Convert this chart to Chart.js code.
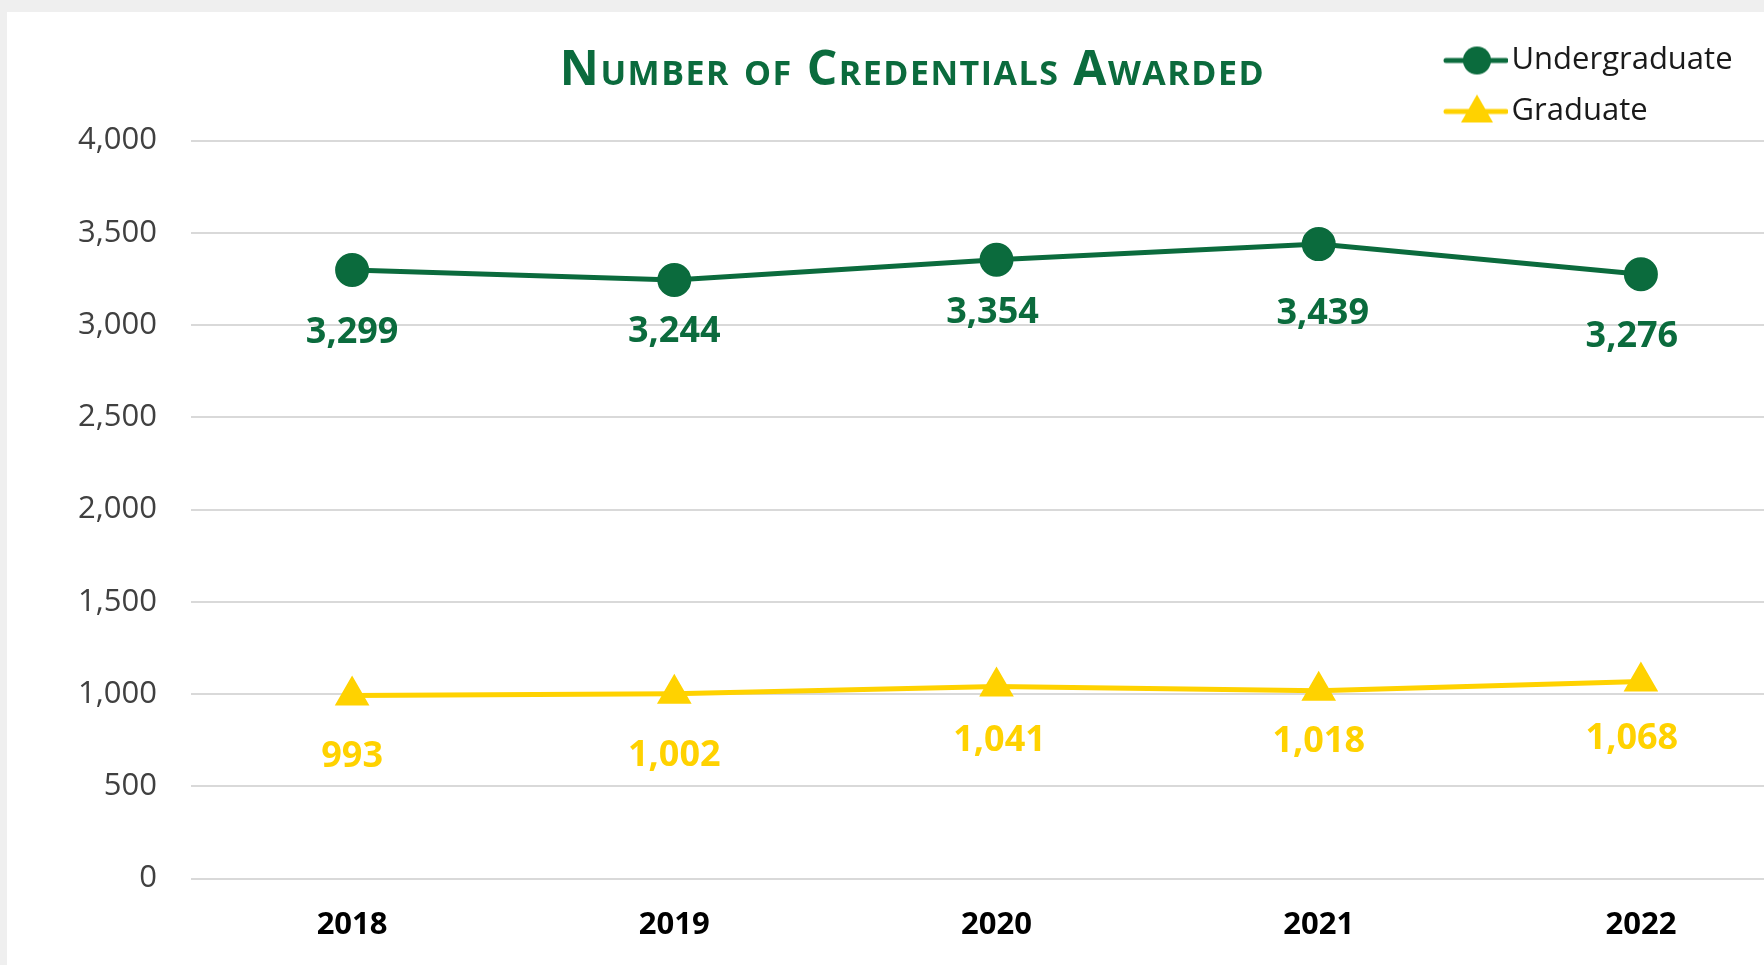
<!DOCTYPE html>
<html>
<head>
<meta charset="utf-8">
<script src="https://cdn.jsdelivr.net/npm/chart.js@4.4.1/dist/chart.umd.min.js"></script>
<style>
    body { margin: 0; background: #efefef; overflow: hidden; }
    #box { position: absolute; left: 7px; top: 12px; width: 1815px; height: 953px; background: #fff; }
</style>
</head>
<body>
<div id="box"><canvas id="credChart"></canvas></div>
<script>
// Data
const years = ['2018', '2019', '2020', '2021', '2022'];
const undergraduate = [3299, 3244, 3354, 3439, 3276];
const graduate = [993, 1002, 1041, 1018, 1068];
const yTicks = [0, 500, 1000, 1500, 2000, 2500, 3000, 3500, 4000];

// label nudges (px below the point), as placed in the original
const labelDrop = [[63, 52, 53, 70, 63], [61, 62, 54, 51, 57]];
const labelShift = [[0, 0, -4, 4, -9], [0, 0, 3, 0, -9]];

const green = '#0b6b3d';
const yellow = '#ffd200';
const fontFamily = "'Open Sans', sans-serif";
const titleText = 'Number of Credentials Awarded';
const titleSize = 48;

// Legend sample: line with marker in the middle
function legendIcon(color, shape) {
    const c = document.createElement('canvas');
    c.width = 74;
    c.height = 40;
    const ctx = c.getContext('2d');
    ctx.strokeStyle = color;
    ctx.fillStyle = color;
    ctx.lineWidth = 5;
    ctx.lineCap = 'round';
    ctx.beginPath();
    ctx.moveTo(12, 20);
    ctx.lineTo(72, 20);
    ctx.stroke();
    ctx.beginPath();
    if (shape === 'circle') {
        ctx.arc(43, 20, 14, 0, Math.PI * 2);
    } else {
        ctx.moveTo(43, 3);
        ctx.lineTo(59, 31);
        ctx.lineTo(27, 31);
        ctx.closePath();
    }
    ctx.fill();
    return c;
}

// Value labels under each point
const valueLabels = {
    id: 'valueLabels',
    afterDatasetsDraw(chart) {
        const ctx = chart.ctx;
        ctx.save();
        ctx.font = `bold 36px ${fontFamily}`;
        ctx.textAlign = 'center';
        ctx.textBaseline = 'middle';
        chart.data.datasets.forEach((ds, i) => {
            const meta = chart.getDatasetMeta(i);
            ctx.fillStyle = ds.borderColor;
            meta.data.forEach((pt, j) => {
                ctx.fillText(ds.data[j].toLocaleString('en-US'), pt.x + labelShift[i][j], pt.y + labelDrop[i][j]);
            });
        });
        ctx.restore();
    }
};

// Title in small caps (the built-in title only keeps the space)
const smallCapsTitle = {
    id: 'smallCapsTitle',
    afterDraw(chart) {
        const t = chart.titleBlock;
        const ctx = chart.ctx;
        ctx.save();
        ctx.font = `bold ${titleSize}px ${fontFamily}`;
        ctx.fontVariantCaps = 'small-caps';
        ctx.letterSpacing = '1.5px';
        ctx.fillStyle = green;
        ctx.textAlign = 'center';
        ctx.textBaseline = 'middle';
        ctx.fillText(titleText, (t.left + t.right) / 2 + 1, t.top + 30.5 + titleSize * 0.6);
        ctx.restore();
    }
};

// Put the legend in the top right corner, over the title row
const legendSpot = {
    id: 'legendSpot',
    afterLayout(chart) {
        const lg = chart.legend;
        lg.left = 1419;
        lg.right = 1815;
        lg.top = 13;
        lg.bottom = 200;
    }
};

const ctx = document.getElementById('credChart').getContext('2d');

new Chart(ctx, {
    type: 'line',
    data: {
        labels: years,
        datasets: [
            {
                label: 'Undergraduate',
                data: undergraduate,
                borderColor: green,
                backgroundColor: green,
                borderWidth: 5,
                pointStyle: 'circle',
                pointRadius: 16,
                pointBorderWidth: 2,
                pointBackgroundColor: green,
                pointBorderColor: green,
                tension: 0
            },
            {
                label: 'Graduate',
                data: graduate,
                borderColor: yellow,
                backgroundColor: yellow,
                borderWidth: 5,
                pointStyle: 'triangle',
                pointRadius: 18,
                pointBorderWidth: 2,
                pointBackgroundColor: yellow,
                pointBorderColor: yellow,
                tension: 0
            }
        ]
    },
    options: {
        responsive: true,
        maintainAspectRatio: false,
        animation: false,
        layout: { padding: { left: 0, right: 6, top: 0, bottom: 0 } },
        scales: {
            x: {
                offset: true,
                grid: { display: false, drawTicks: false },
                border: { display: false },
                ticks: {
                    color: '#000',
                    padding: 28,
                    font: { family: fontFamily, size: 31, weight: 'bold' }
                },
                afterFit: scale => { scale.height = 86.4; }
            },
            y: {
                min: 0,
                max: 4000,
                afterBuildTicks: scale => { scale.ticks = yTicks.map(v => ({ value: v })); },
                grid: { color: '#d9d9d9', lineWidth: 2, drawTicks: false },
                border: { display: false },
                ticks: {
                    color: '#404040',
                    padding: 34,
                    font: { family: fontFamily, size: 31 },
                    callback: v => v.toLocaleString('en-US')
                },
                afterFit: scale => { scale.width = 184; }
            }
        },
        plugins: {
            title: {
                display: true,
                text: titleText,
                color: 'rgba(0,0,0,0)',
                font: { family: fontFamily, size: 46, weight: 'bold' },
                padding: { top: 28.4, bottom: 45 }
            },
            legend: {
                display: true,
                position: 'chartArea',
                align: 'start',
                labels: {
                    color: '#1a1a1a',
                    usePointStyle: true,
                    pointStyleWidth: 50,
                    padding: 20,
                    font: { family: fontFamily, size: 31 },
                    generateLabels: chart => chart.data.datasets.map((ds, i) => ({
                        text: ds.label,
                        fontColor: '#1a1a1a',
                        pointStyle: legendIcon(ds.borderColor, i === 0 ? 'circle' : 'triangle'),
                        datasetIndex: i,
                        hidden: false,
                        lineWidth: 0
                    }))
                }
            },
            tooltip: { enabled: false }
        }
    },
    plugins: [valueLabels, smallCapsTitle, legendSpot]
});
</script>
</body>
</html>
